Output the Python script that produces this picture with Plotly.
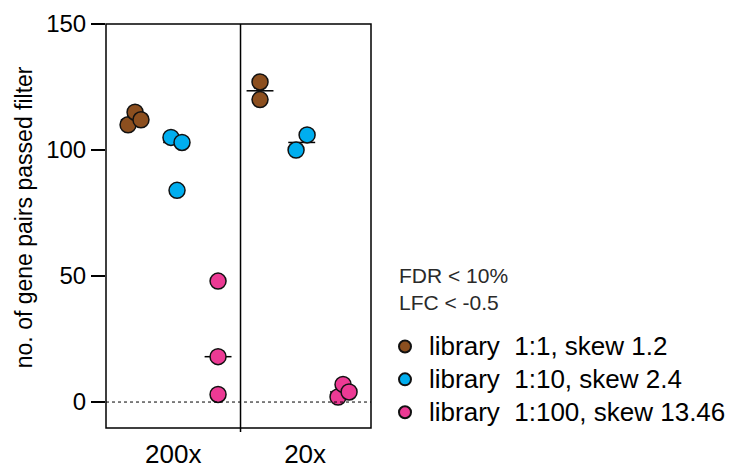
import numpy as np
import plotly.graph_objects as go

# ---- data ----
panels = ["200x", "20x"]
libraries = ["library\u00a0\u00a01:1, skew 1.2", "library\u00a0\u00a01:10, skew 2.4", "library\u00a0\u00a01:100, skew 13.46"]
lib1_200x = [110, 115, 112]
lib1_20x = [127, 120]
lib10_200x = [105, 103, 84]
lib10_20x = [100, 106]
lib100_200x = [48, 18, 3]
lib100_20x = [2, 7, 4]
y_ticks = [0, 50, 100, 150]

values = {
    libraries[0]: {"200x": lib1_200x, "20x": lib1_20x},
    libraries[1]: {"200x": lib10_200x, "20x": lib10_20x},
    libraries[2]: {"200x": lib100_200x, "20x": lib100_20x},
}

# ---- layout / style constants ----
colors = ["#8C4F1F", "#00AEEF", "#EC3A94"]
group_pos = {"200x": [0.21, 0.525, 0.833], "20x": [1.145, 1.455, 1.765]}
jitter = {
    (0, "200x"): [-0.046, 0.006, 0.05], (0, "20x"): [0, 0],
    (1, "200x"): [-0.042, 0.04, 0.003], (1, "20x"): [-0.042, 0.04],
    (2, "200x"): [0, 0, 0], (2, "20x"): [-0.04, -0.003, 0.042],
}
panel_label_pos = [0.5, 1.48]
FONT = "Liberation Sans, Arial, Helvetica, sans-serif"
W, H = 727, 460  # page adds an 8px body margin

fig = go.Figure()

# median lines (under markers)
for i, lib in enumerate(libraries):
    for p in panels:
        c = group_pos[p][i]
        m = float(np.median(values[lib][p]))
        fig.add_trace(go.Scatter(x=[c - 0.1, c + 0.1], y=[m, m], mode="lines",
                                 line=dict(color="black", width=1.5),
                                 showlegend=False, hoverinfo="skip"))

# points
for i, lib in enumerate(libraries):
    xs, ys = [], []
    for p in panels:
        for v, j in zip(values[lib][p], jitter[(i, p)]):
            xs.append(group_pos[p][i] + j)
            ys.append(v)
    fig.add_trace(go.Scatter(x=xs, y=ys, mode="markers",
                             name='<span style="font-size:26px">' + lib + '</span>',
                             marker=dict(size=16, color=colors[i],
                                         line=dict(color="#111111", width=1.5))))

fig.update_layout(
    width=W, height=H,
    margin=dict(l=98, r=364, t=16, b=40),
    plot_bgcolor="white", paper_bgcolor="white",
    font=dict(family=FONT, color="black"),
    xaxis=dict(range=[0, 1.97], showgrid=False, zeroline=False, showline=False,
               tickvals=panel_label_pos, ticktext=panels, ticks="",
               tickfont=dict(size=26), ticklabelstandoff=8, automargin=False),
    yaxis=dict(range=[-10.3, 150], showgrid=False, zeroline=False, showline=False,
               tickvals=y_ticks, ticks="outside", ticklen=14, tickwidth=1.5,
               tickcolor="black", tickfont=dict(size=24), automargin=False),
    legend=dict(xref="container", yref="container", x=373 / W, y=1 - 317 / H,
                xanchor="left", yanchor="top",
                font=dict(size=23), bgcolor="rgba(0,0,0,0)",
                itemwidth=38, itemsizing="constant"),
    showlegend=True,
)

# frame, divider, zero line
fig.add_shape(type="rect", xref="paper", yref="paper", x0=0, x1=1, y0=0, y1=1,
              line=dict(color="black", width=1.5))
fig.add_shape(type="line", xref="x", yref="paper", x0=1, x1=1, y0=-0.01, y1=1,
              line=dict(color="black", width=1.5))
fig.add_shape(type="line", xref="paper", yref="y", x0=0, x1=1, y0=0, y1=0,
              line=dict(color="black", width=1, dash="dot"))

# y title and legend title
fig.add_annotation(text="no. of gene pairs passed filter", xref="paper", yref="paper",
                   x=-0.309, y=0.522, textangle=-90, showarrow=False,
                   font=dict(size=23), xanchor="center", yanchor="middle")
fig.add_annotation(text="FDR < 10%<br>LFC < -0.5", xref="paper", yref="paper",
                   x=(397 - 106) / 265, y=(428 - 289) / 404, showarrow=False, align="left",
                   font=dict(size=21, color="#2a2a2a"), xanchor="left", yanchor="middle")

fig.write_html("out.html")
